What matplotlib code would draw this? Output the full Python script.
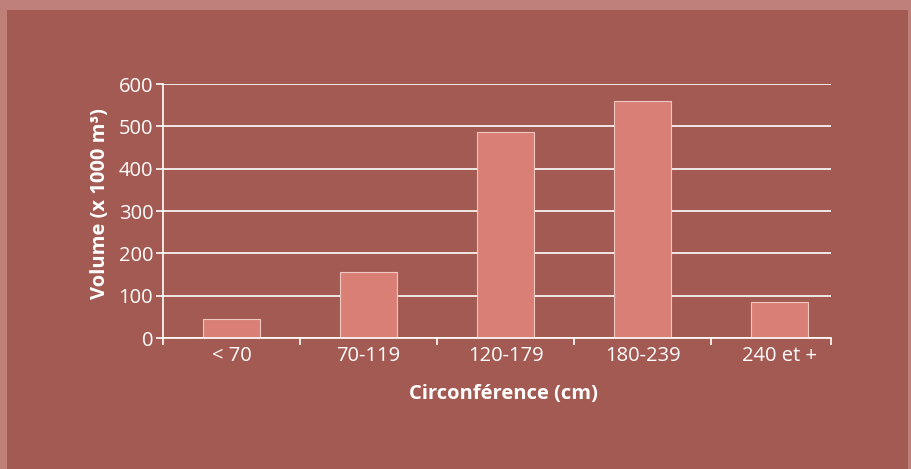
##############################################################################
# Volume par classe de circonference
##############################################################################
import matplotlib.pyplot as plt
from matplotlib.patches import Rectangle

CATEGORIES = ['< 70', '70-119', '120-179', '180-239', '240 et +']
VOLUMES = [45, 156, 487, 560, 85]
Y_TICKS = [0, 100, 200, 300, 400, 500, 600]

(W, H, DPI) = (911, 469, 100)
(PANEL, STRIP, BAR, WHITE) = ('#A35A52', '#C0807A', '#D97F76', '#FFFFFF')
plt.rcParams['font.family'] = ['Open Sans', 'DejaVu Sans']
##############################################################################
# Figure and background panel
##############################################################################
fig = plt.figure(figsize=(W/DPI, H/DPI), dpi=DPI, facecolor=STRIP)
fig.patches.append(Rectangle(
    (7/W, 0), (901/W), (H-10)/H, transform=fig.transFigure,
    facecolor=PANEL, edgecolor='none', zorder=-10
))
ax = fig.add_axes([163/W, 131/H, (831-163)/W, (385-131)/H])
ax.set_facecolor('none')
ax.set_zorder(5)
##############################################################################
# Bars
##############################################################################
x = range(len(CATEGORIES))
ax.bar(x, VOLUMES, width=0.42, color=BAR, edgecolor='#F0C8C0',
       linewidth=0.8, zorder=3)
##############################################################################
# Axes styling
##############################################################################
ax.set_xlim(-0.5, 4.376)
ax.set_ylim(0, 600)
ax.set_yticks(Y_TICKS)
ax.set_yticklabels([str(v) for v in Y_TICKS])
ax.set_xticks(list(x))
ax.set_xticklabels(CATEGORIES)
ax.set_xticks([-0.5, 0.5, 1.5, 2.5, 3.5, 4.376], minor=True)
ax.tick_params(axis='x', which='major', length=0, pad=6,
               labelsize=14.5, labelcolor=WHITE)
ax.tick_params(axis='x', which='minor', length=5, width=1.2,
               color=WHITE, direction='out')
ax.tick_params(axis='y', length=5, width=1.2, color=WHITE, pad=2,
               labelsize=14.5, labelcolor=WHITE)
ax.grid(axis='y', color=WHITE, linewidth=1.2, zorder=1)
ax.set_axisbelow(True)
for side in ('top', 'right'):
    ax.spines[side].set_visible(False)
for side in ('left', 'bottom'):
    ax.spines[side].set_color(WHITE)
    ax.spines[side].set_linewidth(1.2)
    ax.spines[side].set_zorder(4)
ax.set_ylabel('Volume (x 1000 m³)', color=WHITE, fontsize=14.5,
              fontweight='bold')
ax.set_xlabel('Circonférence (cm)', color=WHITE, fontsize=14.5,
              fontweight='bold')
ax.xaxis.set_label_coords(0.51, -0.18)
ax.yaxis.set_label_coords(-0.08, 0.53)
##############################################################################
# Export
##############################################################################
plt.savefig('out.png', dpi=DPI, facecolor=STRIP)
plt.close('all')
